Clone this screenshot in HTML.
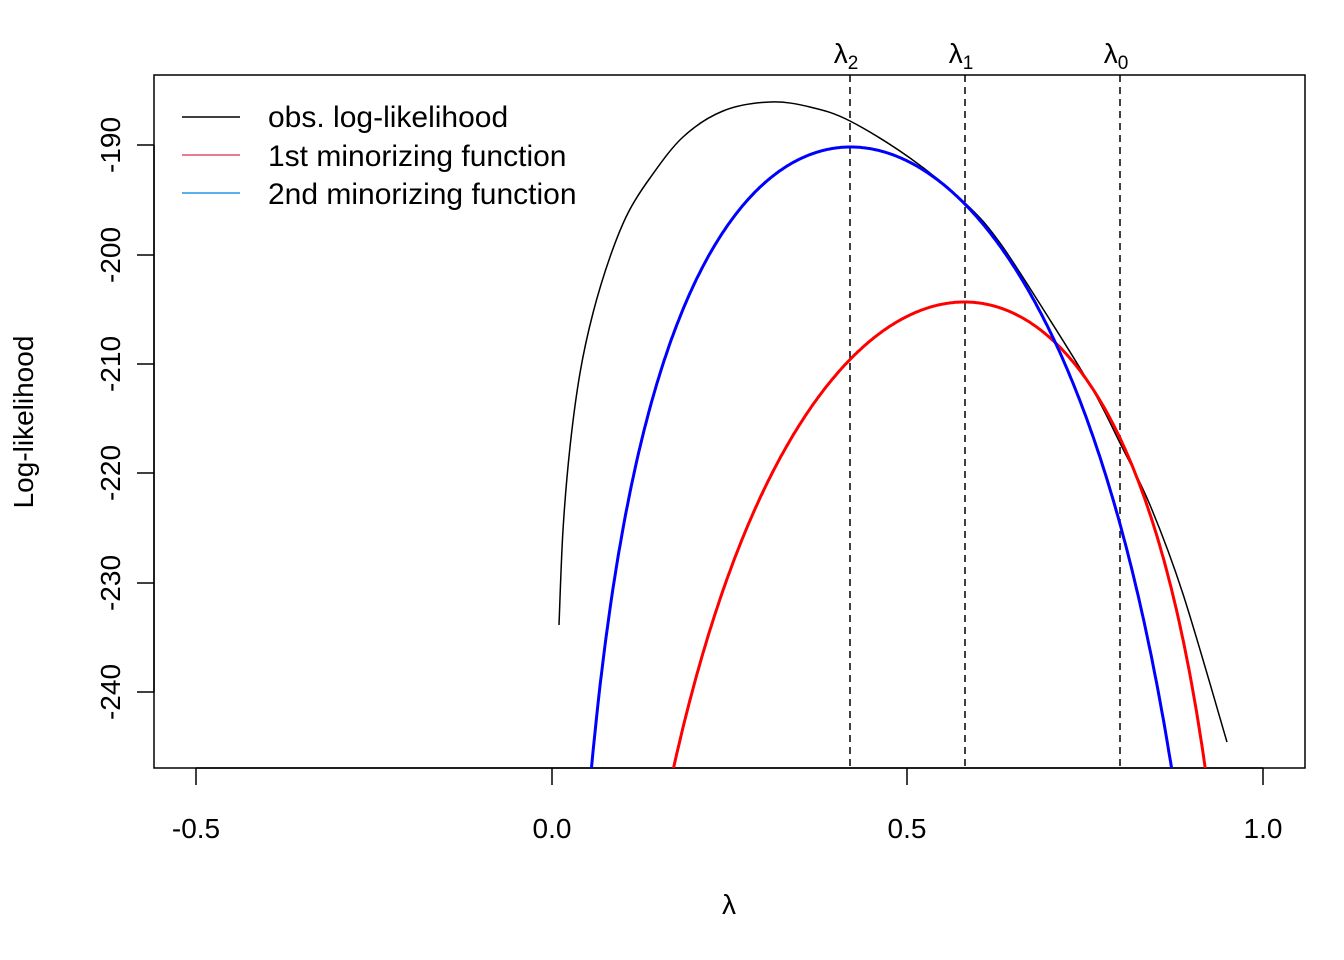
<!DOCTYPE html>
<html><head><style>body{margin:0;background:#fff}svg{display:block}text{font-family:"Liberation Sans",sans-serif;fill:#000}</style></head><body>
<svg width="1344" height="960" viewBox="0 0 1344 960">
<defs><clipPath id="c"><rect x="154" y="75" width="1151" height="693"/></clipPath></defs>
<rect x="154" y="75" width="1151" height="693" fill="none" stroke="#000" stroke-width="1.5"/>
<g stroke="#000" stroke-width="1.5">
<line x1="196" y1="768" x2="1263" y2="768"/>
<line x1="196" y1="768" x2="196" y2="785"/><line x1="552" y1="768" x2="552" y2="785"/><line x1="907" y1="768" x2="907" y2="785"/><line x1="1263" y1="768" x2="1263" y2="785"/>
<line x1="154" y1="145" x2="154" y2="692"/>
<line x1="137" y1="145" x2="154" y2="145"/><line x1="137" y1="255" x2="154" y2="255"/><line x1="137" y1="364" x2="154" y2="364"/><line x1="137" y1="473" x2="154" y2="473"/><line x1="137" y1="583" x2="154" y2="583"/><line x1="137" y1="692" x2="154" y2="692"/>
</g>
<g font-size="28" text-anchor="middle">
<text x="196" y="838">-0.5</text><text x="552" y="838">0.0</text><text x="907" y="838">0.5</text><text x="1263" y="838">1.0</text>
<text x="729" y="914">λ</text>
</g>
<g font-size="28" text-anchor="middle">
<text transform="translate(120,145) rotate(-90)">-190</text>
<text transform="translate(120,255) rotate(-90)">-200</text>
<text transform="translate(120,364) rotate(-90)">-210</text>
<text transform="translate(120,473) rotate(-90)">-220</text>
<text transform="translate(120,583) rotate(-90)">-230</text>
<text transform="translate(120,692) rotate(-90)">-240</text>
<text transform="translate(33,422) rotate(-90)">Log-likelihood</text>
</g>
<g stroke="#000" stroke-width="1.5" stroke-dasharray="7,5">
<line x1="850" y1="75" x2="850" y2="768"/><line x1="965" y1="75" x2="965" y2="768"/><line x1="1120" y1="75" x2="1120" y2="768"/>
</g>
<g font-size="28" text-anchor="middle">
<text x="846" y="63">λ<tspan font-size="19" dy="6">2</tspan></text>
<text x="961" y="63">λ<tspan font-size="19" dy="6">1</tspan></text>
<text x="1116" y="63">λ<tspan font-size="19" dy="6">0</tspan></text>
</g>
<g clip-path="url(#c)" fill="none">
<path id="pk" stroke="#000" stroke-width="1.5" d=""/>
<path id="pr" stroke="#ff0000" stroke-width="3" d=""/>
<path id="pb" stroke="#0000ff" stroke-width="3" d=""/>
</g>
<line x1="182" y1="117" x2="240" y2="117" stroke="#000" stroke-width="1.5"/>
<line x1="182" y1="155" x2="240" y2="155" stroke="#df536b" stroke-width="1.5"/>
<line x1="182" y1="193" x2="240" y2="193" stroke="#2297e6" stroke-width="1.5"/>
<g font-size="30">
<text x="268" y="127">obs. log-likelihood</text>
<text x="268" y="166">1st minorizing function</text>
<text x="268" y="204">2nd minorizing function</text>
</g>
</svg>
<script>
function cr(p){var d="M"+p[0][0]+","+p[0][1];for(var i=0;i<p.length-1;i++){var a=p[i-1]||p[i],b=p[i],c=p[i+1],e=p[i+2]||c;d+=" C"+(b[0]+(c[0]-a[0])/6)+","+(b[1]+(c[1]-a[1])/6)+" "+(c[0]-(e[0]-b[0])/6)+","+(c[1]-(e[1]-b[1])/6)+" "+c[0]+","+c[1];}return d;}
document.getElementById("pk").setAttribute("d",cr([[559,625],[563,530],[570,447],[580,373],[593,313],[610,257],[628,213],[650,178],[683,137],[723,111],[770,102],[810,107],[850,121],[910,158],[965,203],[1000,243],[1050,320],[1093,390],[1120,443],[1150,505],[1183,594],[1227,742]]));
function lnc(p,A,y0){var B=A*(1-p)/p,d="";for(var l=0.03;l<0.99;l+=0.002){var y=y0-(A*Math.log(l/p)+B*Math.log((1-l)/(1-p)));if(y>900)y=900;var x=552+l*711;d+=(d?" L":"M")+x.toFixed(1)+","+y.toFixed(1);}return d;}
document.getElementById("pr").setAttribute("d",lnc(0.58,639,302));
document.getElementById("pb").setAttribute("d",lnc(0.42,460,147));
</script>
</body></html>
